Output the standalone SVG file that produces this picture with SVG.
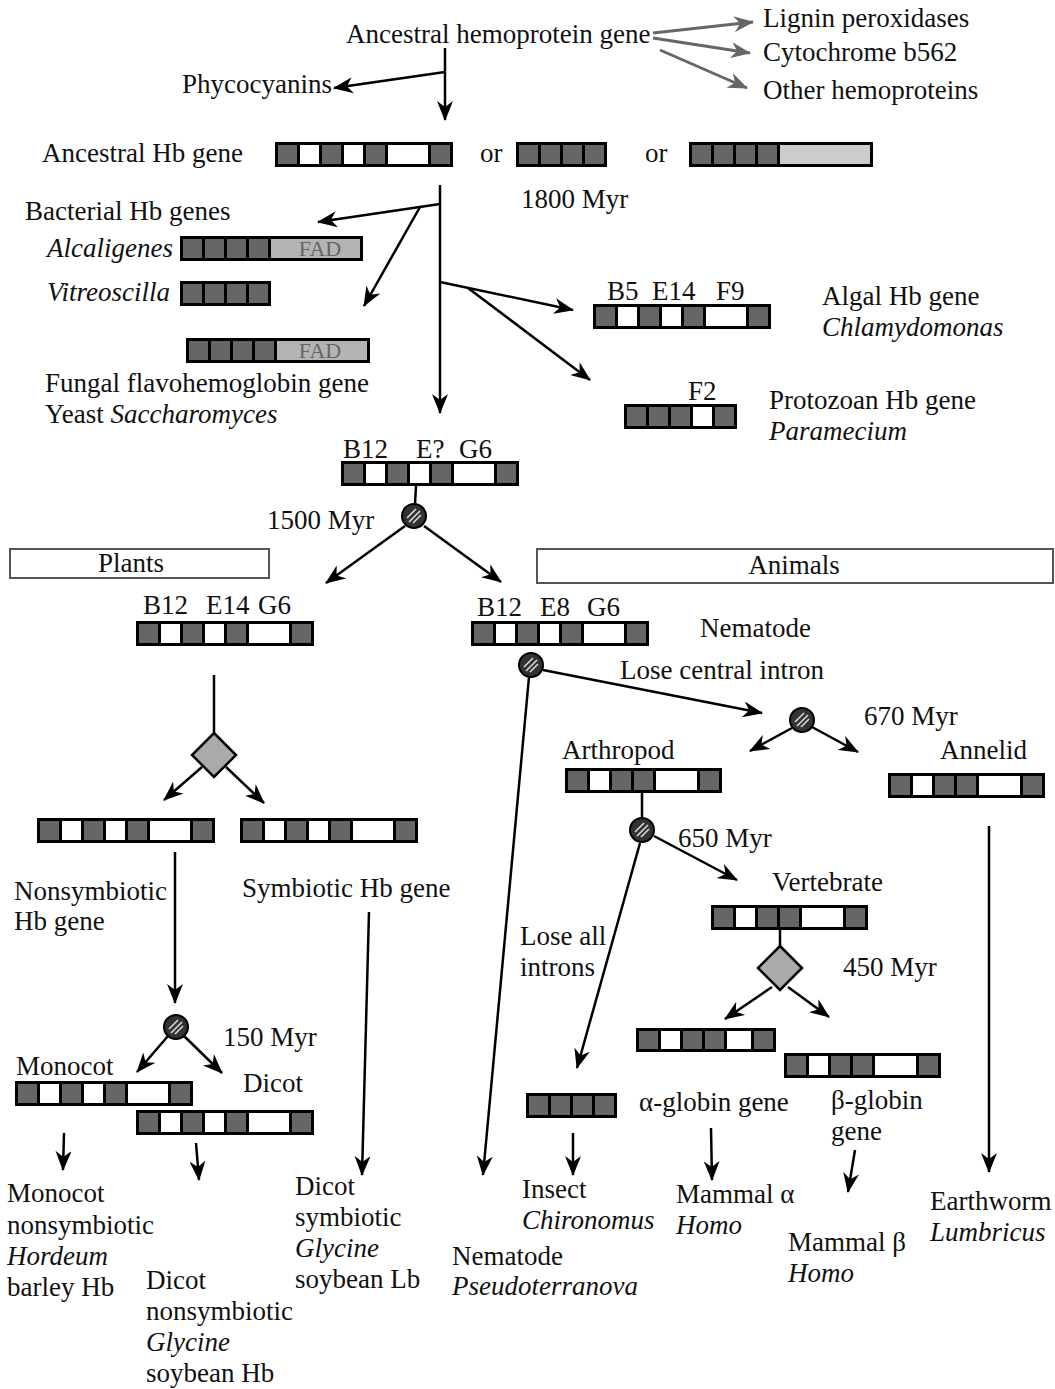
<svg xmlns="http://www.w3.org/2000/svg" xmlns:xlink="http://www.w3.org/1999/xlink" width="1055" height="1389" viewBox="0 0 1055 1389">
<style>
.t{font-family:"Liberation Serif","Times New Roman",serif;font-size:27px;fill:#111}
.i{font-style:italic}
.fad{font-family:"Liberation Serif",serif;font-size:22px;fill:#666}
.ln{stroke:#000;stroke-width:2.5;fill:none}
.ar{stroke:#000;stroke-width:2.5;fill:none;marker-end:url(#ah)}
.ga{stroke:#666;stroke-width:3;fill:none;marker-end:url(#gh)}
.d{fill:#666}
.w{fill:#fff}
.bx{fill:#fff;stroke:#555;stroke-width:2}
.dm{fill:#aaa;stroke:#000;stroke-width:2.5}
</style>
<defs>
<marker id="ah" viewBox="0 0 20 16" refX="19" refY="8" markerWidth="20" markerHeight="16" orient="auto" markerUnits="userSpaceOnUse"><path d="M0,0 L20,8 L0,16 L6,8 z" fill="#000"/></marker>
<marker id="gh" viewBox="0 0 20 16" refX="19" refY="8" markerWidth="20" markerHeight="16" orient="auto" markerUnits="userSpaceOnUse"><path d="M0,0 L20,8 L0,16 L6,8 z" fill="#666"/></marker>
<g id="bar7"><rect width="178" height="25" fill="#000"/><rect class="d" x="3" y="3" width="19" height="19"/><rect class="w" x="25" y="3" width="19" height="19"/><rect class="d" x="47" y="3" width="19" height="19"/><rect class="w" x="69" y="3" width="19" height="19"/><rect class="d" x="91" y="3" width="19" height="19"/><rect class="w" x="113" y="3" width="40" height="19"/><rect class="d" x="156" y="3" width="19" height="19"/></g>
<g id="bar4"><rect width="91" height="25" fill="#000"/><rect class="d" x="3" y="3" width="19" height="19"/><rect class="d" x="25" y="3" width="19" height="19"/><rect class="d" x="47" y="3" width="19" height="19"/><rect class="d" x="69" y="3" width="19" height="19"/></g>
<g id="bar6"><rect width="157" height="25" fill="#000"/><rect class="d" x="3" y="3" width="19" height="19"/><rect class="w" x="25" y="3" width="19" height="19"/><rect class="d" x="47" y="3" width="19" height="19"/><rect class="d" x="69" y="3" width="19" height="19"/><rect class="w" x="91" y="3" width="41" height="19"/><rect class="d" x="135" y="3" width="19" height="19"/></g>
<g id="hc"><circle r="12" fill="#333" stroke="#000" stroke-width="2"/><path d="M-7,2 L2,-7 M-5,6 L6,-5 M-1,7 L7,-1" stroke="#ddd" stroke-width="1.5"/></g>
</defs>
<rect width="1055" height="1389" fill="#fff"/>

<g id="connectors">
<path class="ga" d="M653,33 L753,22"/>
<path class="ga" d="M653,38 L750,53"/>
<path class="ga" d="M660,50 L747,88"/>
<path class="ar" d="M445,48 L445,120"/>
<path class="ar" d="M445,72 L334,88"/>
<path class="ar" d="M440,185 L440,413"/>
<path class="ar" d="M440,204 L318,222"/>
<path class="ar" d="M420,207 L364,306"/>
<path class="ar" d="M440,282 L573,310"/>
<path class="ar" d="M468,288 L590,380"/>
<path class="ln" d="M416,486 L415,504"/>
<path class="ar" d="M405,526 L326,583"/>
<path class="ar" d="M424,526 L501,582"/>
<path class="ln" d="M214,675 L214,733"/>
<path class="ar" d="M202,767 L164,800"/>
<path class="ar" d="M226,767 L264,803"/>
<path class="ar" d="M543,670 L762,713"/>
<path class="ar" d="M529,677 L483,1175"/>
<path class="ar" d="M792,728 L750,751"/>
<path class="ar" d="M812,727 L858,752"/>
<path class="ln" d="M642,793 L642,818"/>
<path class="ar" d="M640,843 L577,1068"/>
<path class="ar" d="M654,836 L737,880"/>
<path class="ln" d="M780,930 L780,946"/>
<path class="ar" d="M772,987 L725,1019"/>
<path class="ar" d="M788,987 L829,1017"/>
<path class="ar" d="M989,826 L989,1172"/>
<path class="ar" d="M175,852 L175,1003"/>
<path class="ar" d="M168,1036 L137,1072"/>
<path class="ar" d="M184,1036 L222,1073"/>
<path class="ar" d="M369,912 L362,1175"/>
<path class="ar" d="M64,1133 L63,1170"/>
<path class="ar" d="M196,1143 L199,1180"/>
<path class="ar" d="M573,1133 L573,1175"/>
<path class="ar" d="M711,1128 L712,1180"/>
<path class="ar" d="M855,1150 L848,1192"/>
</g>

<g id="top">
<text class="t" x="346" y="43">Ancestral hemoprotein gene</text>
<text class="t" x="763" y="27">Lignin peroxidases</text>
<text class="t" x="763" y="61">Cytochrome b562</text>
<text class="t" x="763" y="99">Other hemoproteins</text>
<text class="t" x="182" y="93">Phycocyanins</text>
</g>

<g id="ancestral-hb">
<text class="t" x="42" y="162">Ancestral Hb gene</text>
<use href="#bar7" x="275" y="142"/>
<text class="t" x="480" y="162">or</text>
<use href="#bar4" x="516" y="142"/>
<text class="t" x="645" y="162">or</text>
<g transform="translate(689,142)"><rect width="184" height="25" fill="#000"/><rect class="d" x="3" y="3" width="19" height="19"/><rect class="d" x="25" y="3" width="19" height="19"/><rect class="d" x="47" y="3" width="19" height="19"/><rect class="d" x="69" y="3" width="19" height="19"/><rect fill="#ccc" x="91" y="3" width="90" height="19"/></g>
<text class="t" x="521" y="208">1800 Myr</text>
</g>

<g id="bacterial">
<text class="t" x="25" y="220">Bacterial Hb genes</text>
<text class="t i" x="47" y="257">Alcaligenes</text>
<g transform="translate(180,236)"><rect width="183" height="25" fill="#000"/><rect class="d" x="3" y="3" width="19" height="19"/><rect class="d" x="25" y="3" width="19" height="19"/><rect class="d" x="47" y="3" width="19" height="19"/><rect class="d" x="69" y="3" width="19" height="19"/><rect fill="#b4b4b4" x="91" y="3" width="89" height="19"/><text class="fad" x="140" y="20" text-anchor="middle">FAD</text></g>
<text class="t i" x="47" y="301">Vitreoscilla</text>
<use href="#bar4" x="180" y="281"/>
</g>

<g id="fungal">
<g transform="translate(186,338)"><rect width="184" height="25" fill="#000"/><rect class="d" x="3" y="3" width="19" height="19"/><rect class="d" x="25" y="3" width="19" height="19"/><rect class="d" x="47" y="3" width="19" height="19"/><rect class="d" x="69" y="3" width="19" height="19"/><rect fill="#b4b4b4" x="91" y="3" width="90" height="19"/><text class="fad" x="134" y="20" text-anchor="middle">FAD</text></g>
<text class="t" x="45" y="392">Fungal flavohemoglobin gene</text>
<text class="t" x="45" y="423">Yeast <tspan class="i">Saccharomyces</tspan></text>
</g>

<g id="algal">
<text class="t" x="607" y="300">B5</text>
<text class="t" x="652" y="300">E14</text>
<text class="t" x="716" y="300">F9</text>
<use href="#bar7" x="593" y="304"/>
<text class="t" x="822" y="305">Algal Hb gene</text>
<text class="t i" x="822" y="336">Chlamydomonas</text>
</g>

<g id="protozoan">
<text class="t" x="688" y="400">F2</text>
<g transform="translate(624,404)"><rect width="113" height="25" fill="#000"/><rect class="d" x="3" y="3" width="19" height="19"/><rect class="d" x="25" y="3" width="19" height="19"/><rect class="d" x="47" y="3" width="19" height="19"/><rect class="w" x="69" y="3" width="19" height="19"/><rect class="d" x="91" y="3" width="19" height="19"/></g>
<text class="t" x="769" y="409">Protozoan Hb gene</text>
<text class="t i" x="769" y="440">Paramecium</text>
</g>

<g id="common">
<text class="t" x="343" y="458">B12</text>
<text class="t" x="416" y="458">E?</text>
<text class="t" x="459" y="458">G6</text>
<use href="#bar7" x="341" y="461"/>
<use href="#hc" x="414" y="516"/>
<text class="t" x="267" y="529">1500 Myr</text>
</g>

<g id="plants-box"><rect class="bx" x="10" y="549" width="259" height="29"/><text class="t" x="131" y="572" text-anchor="middle">Plants</text></g>
<g id="animals-box"><rect class="bx" x="537" y="549" width="516" height="34"/><text class="t" x="794" y="574" text-anchor="middle">Animals</text></g>

<g id="plant-hb">
<text class="t" x="143" y="614">B12</text>
<text class="t" x="206" y="614">E14</text>
<text class="t" x="258" y="614">G6</text>
<use href="#bar7" x="136" y="621"/>
<polygon class="dm" points="214,733 236,755 214,777 192,755"/>
</g>

<g id="plant-nonsym"><use href="#bar7" x="37" y="818"/><text class="t" x="14" y="900">Nonsymbiotic</text><text class="t" x="14" y="930">Hb gene</text></g>
<g id="plant-sym"><use href="#bar7" x="240" y="818"/><text class="t" x="242" y="897">Symbiotic Hb gene</text></g>

<g id="monocot-dicot">
<use href="#hc" x="176" y="1027"/>
<text class="t" x="223" y="1046">150 Myr</text>
<text class="t" x="16" y="1075">Monocot</text>
<text class="t" x="243" y="1092">Dicot</text>
<use href="#bar7" x="15" y="1081"/>
<use href="#bar7" x="136" y="1110"/>
</g>

<g id="nematode">
<text class="t" x="477" y="616">B12</text>
<text class="t" x="540" y="616">E8</text>
<text class="t" x="587" y="616">G6</text>
<use href="#bar7" x="471" y="621"/>
<text class="t" x="700" y="637">Nematode</text>
<use href="#hc" x="531" y="665"/>
<text class="t" x="620" y="679">Lose central intron</text>
</g>

<g id="split670"><use href="#hc" x="802" y="720"/><text class="t" x="864" y="725">670 Myr</text></g>

<g id="arthropod">
<text class="t" x="562" y="759">Arthropod</text>
<use href="#bar6" x="565" y="768"/>
<use href="#hc" x="642" y="830"/>
<text class="t" x="678" y="847">650 Myr</text>
<text class="t" x="520" y="945">Lose all</text>
<text class="t" x="520" y="976">introns</text>
</g>

<g id="annelid"><text class="t" x="940" y="759">Annelid</text><use href="#bar6" x="888" y="773"/></g>

<g id="vertebrate">
<text class="t" x="772" y="891">Vertebrate</text>
<use href="#bar6" x="711" y="905"/>
<polygon class="dm" points="780,946 802,968 780,990 758,968"/>
<text class="t" x="843" y="976">450 Myr</text>
</g>

<g id="alpha">
<g transform="translate(636,1028)"><rect width="140" height="24" fill="#000"/><rect class="d" x="3" y="3" width="19" height="18"/><rect class="w" x="25" y="3" width="19" height="18"/><rect class="d" x="47" y="3" width="19" height="18"/><rect class="d" x="69" y="3" width="19" height="18"/><rect class="w" x="91" y="3" width="24" height="18"/><rect class="d" x="118" y="3" width="19" height="18"/></g>
<text class="t" x="639" y="1111">α-globin gene</text>
</g>
<g id="beta"><use href="#bar6" x="784" y="1053"/><text class="t" x="831" y="1109">β-globin</text><text class="t" x="831" y="1140">gene</text></g>
<g id="insect-bar"><use href="#bar4" x="526" y="1093"/></g>

<g id="leaves">
<text class="t" x="7" y="1202">Monocot</text>
<text class="t" x="7" y="1234">nonsymbiotic</text>
<text class="t i" x="7" y="1265">Hordeum</text>
<text class="t" x="7" y="1296">barley Hb</text>
<text class="t" x="146" y="1289">Dicot</text>
<text class="t" x="146" y="1320">nonsymbiotic</text>
<text class="t i" x="146" y="1351">Glycine</text>
<text class="t" x="146" y="1382">soybean Hb</text>
<text class="t" x="295" y="1195">Dicot</text>
<text class="t" x="295" y="1226">symbiotic</text>
<text class="t i" x="295" y="1257">Glycine</text>
<text class="t" x="295" y="1288">soybean Lb</text>
<text class="t" x="452" y="1265">Nematode</text>
<text class="t i" x="452" y="1295">Pseudoterranova</text>
<text class="t" x="522" y="1198">Insect</text>
<text class="t i" x="522" y="1229">Chironomus</text>
<text class="t" x="676" y="1203">Mammal α</text>
<text class="t i" x="676" y="1234">Homo</text>
<text class="t" x="788" y="1251">Mammal β</text>
<text class="t i" x="788" y="1282">Homo</text>
<text class="t" x="930" y="1210">Earthworm</text>
<text class="t i" x="930" y="1241">Lumbricus</text>
</g>
</svg>
